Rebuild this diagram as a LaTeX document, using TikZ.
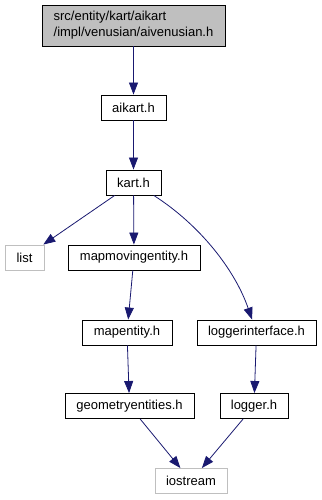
\documentclass[tikz,border=0pt]{standalone}
\usepackage{fontspec}
\setmainfont{Liberation Sans}
\usetikzlibrary{arrows.meta}

\definecolor{edgeblue}{HTML}{191970}
\definecolor{boxgray}{HTML}{BFBFBF}

\begin{document}
\begin{tikzpicture}[
  x=1pt, y=-1pt,
  every node/.style={font=\fontsize{13}{16}\selectfont, inner sep=0pt, minimum height=25pt},
  header/.style={draw=black, line width=0.9pt, fill=white},
  main header/.style={header, fill=boxgray, minimum height=41pt, align=left},
  system header/.style={draw=boxgray, line width=0.9pt, fill=white},
  include/.style={draw=edgeblue, line width=0.8pt, -{Triangle[length=12pt,width=9pt]}}
]
\useasboundingbox (0,0) rectangle (321,500);

\node[main header, minimum width=183pt] (aivenusian) at (133.5,25.5) {src/entity/kart/aikart\\/impl/venusian/aivenusian.h};
\node[header, minimum width=65pt] (aikart) at (133.5,107.5) {aikart.h};
\node[header, minimum width=55pt] (kart) at (133.5,182.5) {kart.h};
\node[system header, minimum width=39pt] (list) at (24.5,257.5) {list};
\node[header, minimum width=132pt] (mapmovingentity) at (134,257.5) {mapmovingentity.h};
\node[header, minimum width=90pt] (mapentity) at (127,332.5) {mapentity.h};
\node[header, minimum width=119pt] (loggerinterface) at (256.5,332.5) {loggerinterface.h};
\node[header, minimum width=129pt] (geometryentities) at (129.5,406) {geometryentities.h};
\node[header, minimum width=68pt] (logger) at (254,406) {logger.h};
\node[system header, minimum width=72pt] (iostream) at (191,481) {iostream};

\foreach \from/\to in {
  aivenusian/aikart,
  aikart/kart,
  kart/list,
  kart/mapmovingentity,
  mapmovingentity/mapentity,
  mapentity/geometryentities,
  loggerinterface/logger,
  geometryentities/iostream,
  logger/iostream} {
  \draw[include] (\from) -- (\to);
}
\draw[include] (kart) .. controls (200,225) and (235,270) .. (loggerinterface);
\end{tikzpicture}
\end{document}
